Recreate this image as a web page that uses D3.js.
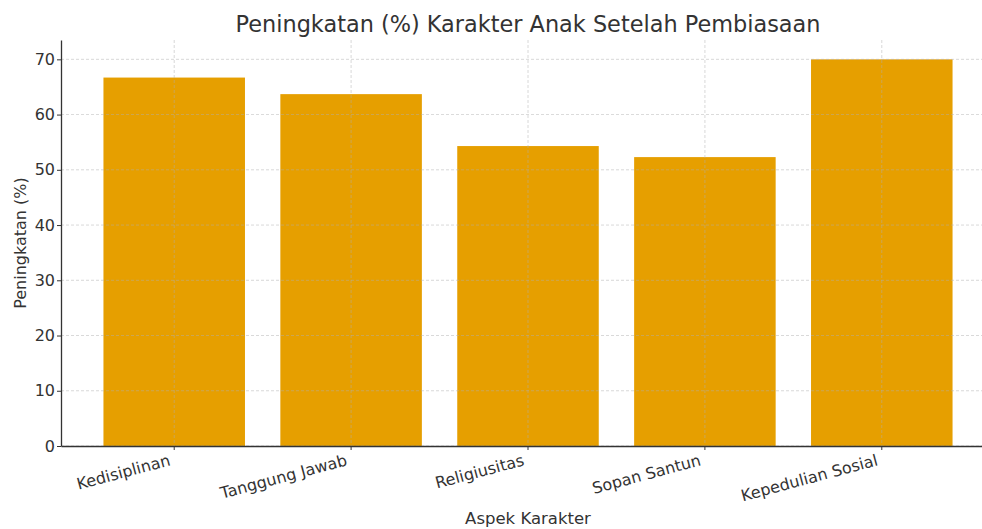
<!DOCTYPE html>
<html>
<head>
<meta charset="utf-8">
<script src="https://cdn.jsdelivr.net/npm/d3@7"></script>
<style>
  body { margin: 0; background: #fff; }
  svg text { font-family: "DejaVu Sans", "Liberation Sans", sans-serif; }
  .grid line { stroke: #b0b0b0; stroke-dasharray: 3,2; stroke-width: 0.8; opacity: 0.6; }
  .axis text { fill: #333; font-size: 16px; }
  .axis path, .axis line { stroke: #333; }
</style>
</head>
<body>
<div class="chart"></div>
<script>
var categories = ["Kedisiplinan", "Tanggung Jawab", "Religiusitas", "Sopan Santun", "Kepedulian Sosial"];
var values = [66.7, 63.7, 54.3, 52.3, 70.0];
var yTicks = [0, 10, 20, 30, 40, 50, 60, 70];

var width = 982, height = 529;
var margin = {top: 40, left: 61, bottom: 83};
var font = "DejaVu Sans";

var svg = d3.select(".chart").append("svg")
            .attr("width", width)
            .attr("height", height);

// axes run past the right edge like the original crop
var x = d3.scaleBand()
          .domain(categories)
          .range([margin.left, 995])
          .paddingInner(0.2)
          .paddingOuter(0.24);

var y = d3.scaleLinear()
          .domain([0, 73.5])
          .range([height - margin.bottom, margin.top]);

svg.selectAll(".bar")
   .data(categories)
   .enter()
   .append("rect")
   .attr("class", "bar")
   .attr("x", function(d) { return x(d); })
   .attr("width", x.bandwidth())
   .attr("y", function(d, i) { return y(values[i]); })
   .attr("height", function(d, i) { return y(0) - y(values[i]); })
   .attr("fill", "#E69F00");

// grid on top, faint
var grid = svg.append("g").attr("class", "grid");
grid.selectAll(".hy")
    .data(yTicks)
    .enter()
    .append("line")
    .attr("x1", margin.left).attr("x2", width)
    .attr("y1", function(d) { return y(d); })
    .attr("y2", function(d) { return y(d); });
grid.selectAll(".vx")
    .data(categories)
    .enter()
    .append("line")
    .attr("x1", function(d) { return x(d) + x.bandwidth() / 2; })
    .attr("x2", function(d) { return x(d) + x.bandwidth() / 2; })
    .attr("y1", y(73.5)).attr("y2", y(0));

var xAxis = svg.append("g")
   .attr("class", "axis")
   .attr("transform", "translate(0," + y(0) + ")")
   .call(d3.axisBottom(x).tickSize(4).tickSizeOuter(0))
   .attr("font-family", font);
xAxis.select(".domain").attr("stroke-width", 1.3);
xAxis.selectAll("text")
     .attr("text-anchor", "end")
     .attr("x", 0).attr("y", 0).attr("dy", 0)
     .attr("transform", "translate(-3,19) rotate(-15)");

var yAxis = svg.append("g")
   .attr("class", "axis")
   .attr("transform", "translate(" + margin.left + ",0)")
   .call(d3.axisLeft(y).tickValues(yTicks).tickSize(4).tickPadding(2).tickSizeOuter(0))
   .attr("font-family", font);
yAxis.select(".domain").attr("stroke-width", 1.3);

svg.append("text")
   .attr("x", 528)
   .attr("y", 32)
   .attr("text-anchor", "middle")
   .attr("fill", "#333")
   .style("font-size", "22.4px")
   .text("Peningkatan (%) Karakter Anak Setelah Pembiasaan");

svg.append("text")
   .attr("x", 528)
   .attr("y", 524)
   .attr("text-anchor", "middle")
   .attr("fill", "#333")
   .style("font-size", "16.5px")
   .text("Aspek Karakter");

svg.append("text")
   .attr("transform", "translate(26," + y(36.75) + ") rotate(-90)")
   .attr("text-anchor", "middle")
   .attr("fill", "#333")
   .style("font-size", "16px")
   .text("Peningkatan (%)");
</script>
</body>
</html>
